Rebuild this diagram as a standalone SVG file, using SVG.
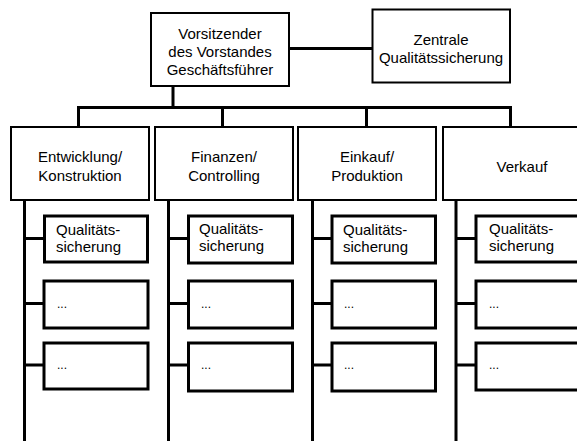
<svg xmlns="http://www.w3.org/2000/svg" width="577" height="441" viewBox="0 0 577 441">
<style>
.box{fill:#fff;stroke:#000;stroke-width:2}
.sub{fill:#fff;stroke:#000;stroke-width:3}
.ln{fill:none;stroke:#000;stroke-width:3}
text{font-family:"Liberation Sans",Arial,sans-serif;font-size:15px;fill:#000}
.c{text-anchor:middle}
.d{font-size:12px}
</style>
<rect width="577" height="441" fill="#fff"/>
<g id="connectors">
<path class="ln" d="M289,48.5H372M173,86V107.5M78.5,127V107.5H510.5V127M222.5,107.5V127M366.5,107.5V127"/>
<path class="ln" d="M24.5,200V441M24.5,238.5H44M24.5,303.5H44M24.5,365H44"/>
<path class="ln" d="M168.5,200V441M168.5,238.5H188M168.5,303.5H188M168.5,365H188"/>
<path class="ln" d="M312.5,200V441M312.5,238.5H332M312.5,303.5H332M312.5,365H332"/>
<path class="ln" d="M456,200V441M456,238.5H476M456,303.5H476M456,365H476"/>
</g>
<g id="ceo"><rect class="box" x="151" y="13" width="138" height="73"/>
<text class="c" x="220" y="39">Vorsitzender</text><text class="c" x="220" y="57">des Vorstandes</text><text class="c" x="220" y="75">Geschäftsführer</text></g>
<g id="zqs"><rect class="box" x="372.5" y="9.5" width="137.5" height="73"/>
<text class="c" x="441" y="45">Zentrale</text><text class="c" x="441" y="63">Qualitätssicherung</text></g>
<g id="dept1"><rect class="box" x="11" y="127" width="138" height="73"/>
<text class="c" x="80" y="162">Entwicklung/</text><text class="c" x="80" y="181">Konstruktion</text></g>
<g id="dept2"><rect class="box" x="155" y="127" width="138" height="73"/>
<text class="c" x="224" y="162">Finanzen/</text><text class="c" x="224" y="181">Controlling</text></g>
<g id="dept3"><rect class="box" x="298" y="127" width="138" height="73"/>
<text class="c" x="367" y="162">Einkauf/</text><text class="c" x="367" y="181">Produktion</text></g>
<g id="dept4"><rect class="box" x="443" y="127" width="140" height="73"/>
<text class="c" x="522" y="172">Verkauf</text></g>
<g id="c1q"><rect class="sub" x="44.5" y="216" width="103" height="46"/><text x="56" y="235">Qualitäts-</text><text x="56" y="252">sicherung</text></g>
<g id="c1a"><rect class="sub" x="44" y="281" width="104" height="47"/><text class="d" x="57" y="308">...</text></g>
<g id="c1b"><rect class="sub" x="44" y="343" width="104" height="46"/><text class="d" x="57" y="369">...</text></g>
<g id="c2q"><rect class="sub" x="188.5" y="216" width="104" height="47"/><text x="199" y="234">Qualitäts-</text><text x="199" y="251">sicherung</text></g>
<g id="c2a"><rect class="sub" x="188.5" y="281" width="104" height="47"/><text class="d" x="201" y="308">...</text></g>
<g id="c2b"><rect class="sub" x="188.5" y="343" width="104" height="48"/><text class="d" x="201" y="369">...</text></g>
<g id="c3q"><rect class="sub" x="332" y="216" width="103.5" height="47"/><text x="343" y="235">Qualitäts-</text><text x="343" y="252">sicherung</text></g>
<g id="c3a"><rect class="sub" x="332" y="281" width="103.5" height="47"/><text class="d" x="344" y="308">...</text></g>
<g id="c3b"><rect class="sub" x="332" y="343" width="103.5" height="48"/><text class="d" x="344" y="369">...</text></g>
<g id="c4q"><rect class="sub" x="476" y="216" width="104" height="46"/><text x="489" y="234">Qualitäts-</text><text x="489" y="251">sicherung</text></g>
<g id="c4a"><rect class="sub" x="476" y="281" width="104" height="47"/><text class="d" x="489" y="308">...</text></g>
<g id="c4b"><rect class="sub" x="476" y="343" width="104" height="47"/><text class="d" x="489" y="369">...</text></g>
</svg>
